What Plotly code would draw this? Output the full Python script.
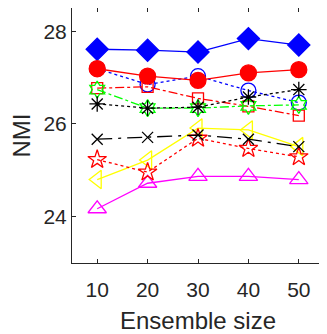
import plotly.graph_objects as go

# ensemble sizes
ensemble_size = [10, 20, 30, 40, 50]

# NMI values per method
blue_diamond = [27.61, 27.59, 27.55, 27.84, 27.70]
blue_circle = [27.19, 26.85, 27.03, 26.72, 26.46]
red_circle = [27.19, 27.03, 26.94, 27.10, 27.17]
red_square = [26.77, 26.80, 26.55, 26.38, 26.18]
green_hexagram = [26.74, 26.34, 26.34, 26.39, 26.41]
black_asterisk = [26.43, 26.34, 26.36, 26.58, 26.74]
black_x = [25.67, 25.71, 25.76, 25.67, 25.51]
red_star = [25.23, 24.96, 25.69, 25.47, 25.29]
yellow_triangle = [24.80, 25.22, 25.91, 25.87, 25.51]
magenta_triangle = [24.17, 24.72, 24.87, 24.87, 24.80]

# (values, colour, dash, symbol, marker size)
series = [
    (blue_circle, '#0000ff', 'dot', 'circle-open', 15),
    (blue_diamond, '#0000ff', 'solid', 'diamond', 17),
    (red_circle, '#ff0000', 'solid', 'circle', 16),
    (red_square, '#ff0000', 'dashdot', 'square-open', 11),
    (green_hexagram, '#00ff00', 'dashdot', 'hexagram-open', 13),
    (black_asterisk, '#000000', 'dot', 'asterisk-open', 13),
    (yellow_triangle, '#ffff00', 'solid', 'triangle-left-open', 16),
    (magenta_triangle, '#ff00ff', 'solid', 'triangle-up-open', 16),
    (red_star, '#ff0000', 'dot', 'star-open', 14),
    (black_x, '#000000', 'longdashdot', 'x-thin-open', 11),
]

fig = go.Figure()
for vals, color, dash, symbol, size in series:
    fig.add_trace(go.Scatter(
        x=ensemble_size, y=vals, mode='lines+markers',
        line=dict(color=color, width=1.3, dash=dash),
        marker=dict(symbol=symbol, size=size, color=color,
                    line=dict(color=color, width=1.3)),
        showlegend=False,
    ))

axis_common = dict(
    showgrid=False, zeroline=False, showline=True, linecolor='#262626',
    linewidth=1, mirror='ticks', ticks='inside', ticklen=4, automargin=False,
    tickcolor='#262626', tickfont=dict(size=21, color='#262626'),
)

# page body has an 8px margin, so the figure is sized to fit inside it
fig.update_layout(
    width=319, height=326,
    margin=dict(l=64, r=3, t=0, b=71),
    paper_bgcolor='white', plot_bgcolor='white',
    font=dict(family='Liberation Sans, Arial, sans-serif', color='#262626'),
    xaxis=dict(range=[5, 55], tickvals=ensemble_size, ticklabelstandoff=8,
               title=dict(text='Ensemble size', font=dict(size=24), standoff=12),
               **axis_common),
    yaxis=dict(range=[23, 28.5], tickvals=[24, 26, 28],
               title=dict(text='NMI', font=dict(size=24), standoff=16),
               **axis_common),
)

fig.write_html("out.html")
